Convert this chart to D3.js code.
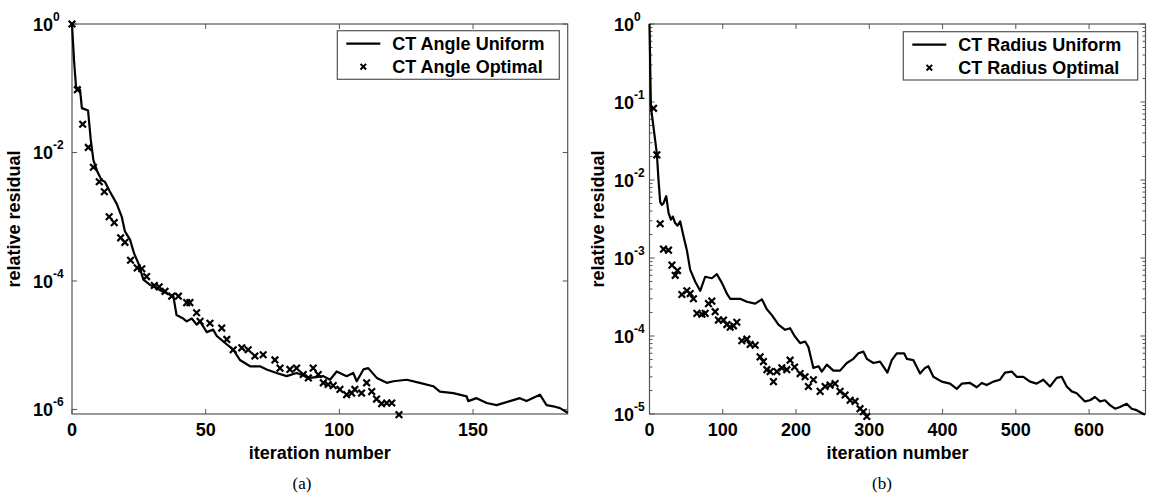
<!DOCTYPE html>
<html><head><meta charset="utf-8">
<script src="https://cdn.jsdelivr.net/npm/d3@7"></script>
<style>body{margin:0;background:#fff}svg{display:block}</style>
</head><body>
<svg id="c" width="1152" height="499"></svg>
<script>
// ---- Panel (a): CT Angle ----
const angleUniformIter = [0,0.75,1.5,3,3.7,6,7,8,9.5,11.1,12.3,14.2,16.7,18.6,19.8,21.7,23.2,24.8,26.7,29.2,32.9,37.9,39.1,41.6,42.9,44.8,46.6,47.9,50.4,52.8,54.1,60.3,62.8,66.6,70.3,72.8,76.5,80.3,84,89,94,96.5,99,102.7,105.2,106.5,109,110.8,114,117.7,120.2,125.2,130.1,135.1,137.6,142.6,147.6,148.2,151.3,155.1,158.8,163.8,167.5,170,175,177.5,180,182.5,185.4];
const angleUniformRes = [1,0.275,0.105,0.095,0.049,0.045,0.016,7.6e-3,5.0e-3,3.7e-3,3.5e-3,2.45e-3,1.6e-3,1.0e-3,5.9e-4,4.4e-4,2.7e-4,1.9e-4,1.05e-4,8.7e-5,7.2e-5,5.8e-5,2.95e-5,2.6e-5,2.35e-5,2.6e-5,2.1e-5,2.35e-5,1.6e-5,1.75e-5,1.4e-5,8.5e-6,5.9e-6,4.7e-6,4.7e-6,4.2e-6,3.7e-6,3.3e-6,3.7e-6,3.1e-6,3.3e-6,2.9e-6,3.9e-6,3.3e-6,3.7e-6,2.75e-6,4.2e-6,4.4e-6,3.1e-6,2.6e-6,2.75e-6,2.9e-6,2.6e-6,2.3e-6,1.9e-6,1.8e-6,1.6e-6,1.35e-6,1.5e-6,1.26e-6,1.17e-6,1.35e-6,1.5e-6,1.35e-6,1.7e-6,1.17e-6,1.12e-6,1.05e-6,0.89e-6];
const angleOptimalIter = [0,2,4,6.1,8,10.2,12.1,13.9,15.8,18.2,19.8,21.9,24.4,26.1,27.9,30.8,32.6,34.8,37.3,39.8,42.9,44.1,46.6,47.9,51.6,56,57.9,60.3,63.5,65.9,68.4,71.5,75.9,77.8,81.5,84,86.5,88.4,90.2,92.1,94,95.8,97.7,100.2,102.7,104.6,105.8,108.3,110.2,112.1,113.9,115.8,117.7,119.6,122.3];
const angleOptimalRes = [1,0.095,0.0275,0.012,5.9e-3,3.5e-3,2.45e-3,1.0e-3,8.1e-4,4.7e-4,4.0e-4,2.1e-4,1.6e-4,1.55e-4,1.17e-4,8.5e-5,8.1e-5,6.9e-5,5.8e-5,5.8e-5,4.6e-5,4.6e-5,3.2e-5,2.35e-5,2.2e-5,1.85e-5,1.23e-5,8.5e-6,9.1e-6,8.5e-6,6.8e-6,7.1e-6,5.9e-6,4.4e-6,4.2e-6,4.4e-6,3.5e-6,3.1e-6,4.4e-6,3.5e-6,2.6e-6,2.45e-6,2.35e-6,2.05e-6,1.7e-6,1.8e-6,2.05e-6,1.8e-6,2.6e-6,1.9e-6,1.45e-6,1.23e-6,1.26e-6,1.26e-6,0.83e-6];
const angleXTicks = [0,50,100,150];
const angleYTicks = [1,1e-2,1e-4,1e-6];
const angleYLabels = ["0","-2","-4","-6"];
const angleLegend = ["CT Angle Uniform","CT Angle Optimal"];

// ---- Panel (b): CT Radius ----
const radiusUniformIter = [0,1.9,10,12.3,14.6,16.9,19,22.8,26,29.2,31.9,35,38.2,41.9,46.4,51,55.5,62.3,69.2,76,85.1,92,98.8,105.6,110.1,123.7,132.9,144.2,153.4,160.2,167,176,185.1,191.9,198,205.6,212.4,216.9,223.7,230.6,235.2,242,251,260.1,269.3,278.3,285.1,292,296.6,305.6,314.7,324.7,330.7,337.5,347.5,351.2,360.2,369.3,376.1,380.6,387.4,398.9,410.2,419.4,426.2,437.5,446.7,453.5,460.3,469.3,478.4,485.3,494.4,501.2,510.2,519.4,528.4,537.5,546.6,555.8,562.6,569.4,576.3,583.1,594.4,601.2,608.1,614.9,621.7,628.5,635.4,642.2,651.3,658.1,664.9,676.2];
const radiusUniformRes = [1,0.087,0.022,0.01,5.2e-3,4.8e-3,5.0e-3,6.2e-3,3.8e-3,3.1e-3,3.4e-3,2.8e-3,2.6e-3,2.95e-3,1.9e-3,1.26e-3,7.1e-4,5.0e-4,3.8e-4,5.75e-4,5.5e-4,6.2e-4,4.8e-4,3.5e-4,3.0e-4,3.0e-4,2.75e-4,2.6e-4,2.95e-4,2.2e-4,1.85e-4,1.4e-4,1.2e-4,1.26e-4,1.0e-4,8.1e-5,8.5e-5,7.2e-5,3.9e-5,4.1e-5,3.5e-5,4.3e-5,3.6e-5,3.6e-5,4.5e-5,5.1e-5,6.0e-5,6.3e-5,5.1e-5,4.5e-5,4.7e-5,3.4e-5,4.9e-5,6.0e-5,6.0e-5,5.1e-5,4.9e-5,3.3e-5,3.9e-5,4.1e-5,3.0e-5,2.6e-5,2.45e-5,2.1e-5,2.45e-5,2.5e-5,2.2e-5,2.5e-5,2.35e-5,2.6e-5,2.75e-5,3.4e-5,3.5e-5,3.0e-5,3.0e-5,2.6e-5,2.45e-5,2.75e-5,2.25e-5,2.9e-5,3.0e-5,2.25e-5,1.95e-5,1.85e-5,1.45e-5,1.5e-5,1.65e-5,1.45e-5,1.5e-5,1.3e-5,1.17e-5,1.23e-5,1.35e-5,1.17e-5,1.12e-5,0.98e-5];
const radiusOptimalIter = [5.5,10,14.6,19.1,25.9,30.6,35.1,38.2,44.2,51,55.5,60,64.7,71.5,76,80.5,85.1,89.6,94.1,101,105.6,110.1,114.6,119.2,126,132.9,137.4,144.2,151,155.5,160.2,164.7,169.2,173.8,180.6,187.4,191.9,198,205.6,212.4,216.9,223.7,232.9,239.7,246.5,253.3,260.1,267,273.8,280.6,287.4,292,296.6];
const radiusOptimalRes = [0.083,0.021,2.75e-3,1.3e-3,1.26e-3,8.1e-4,6.0e-4,6.9e-4,3.4e-4,3.8e-4,3.5e-4,3.0e-4,1.95e-4,1.9e-4,1.95e-4,2.6e-4,2.8e-4,2.05e-4,1.6e-4,1.6e-4,1.4e-4,1.3e-4,1.35e-4,1.5e-4,8.7e-5,9.1e-5,7.8e-5,7.6e-5,5.4e-5,4.7e-5,3.7e-5,3.5e-5,2.6e-5,3.5e-5,3.9e-5,3.7e-5,4.9e-5,4.0e-5,3.3e-5,3.0e-5,2.25e-5,2.75e-5,1.95e-5,2.25e-5,2.35e-5,2.45e-5,1.95e-5,1.75e-5,1.5e-5,1.45e-5,1.17e-5,1.07e-5,0.93e-5];
const radiusXTicks = [0,100,200,300,400,500,600];
const radiusYTicks = [1,1e-1,1e-2,1e-3,1e-4,1e-5];
const radiusYLabels = ["0","-1","-2","-3","-4","-5"];
const radiusLegend = ["CT Radius Uniform","CT Radius Optimal"];

const svg = d3.select("#c");
const AX = "#555";
const FONT = "'Liberation Sans', Arial, Helvetica, sans-serif";
const SERIF = "'Liberation Serif', 'Times New Roman', serif";

function panel(o) {
  const g = svg.append("g");
  const x = d3.scaleLinear().domain(o.xDomain).range([o.left, o.right]);
  const y = d3.scaleLog().domain(o.yDomain).range([o.bottom, o.top]);
  g.append("rect").attr("x", o.left).attr("y", o.top)
    .attr("width", o.right - o.left).attr("height", o.bottom - o.top)
    .attr("fill", "none").attr("stroke", AX).attr("stroke-width", 1.2);
  o.xTicks.forEach(t => {
    const px = x(t);
    g.append("line").attr("x1", px).attr("x2", px).attr("y1", o.bottom).attr("y2", o.bottom - 5).attr("stroke", AX);
    g.append("line").attr("x1", px).attr("x2", px).attr("y1", o.top).attr("y2", o.top + 5).attr("stroke", AX);
    g.append("text").attr("x", px).attr("y", o.bottom + 22).attr("text-anchor", "middle")
      .style("font-family", FONT).attr("font-weight", "bold").attr("font-size", 18).text(t);
  });
  if (o.minor) {
    const lo = Math.log10(o.yDomain[0]), hi = Math.log10(o.yDomain[1]);
    for (let e = Math.floor(lo); e < hi; e++) {
      for (let m = 2; m <= 9; m++) {
        const v = m * Math.pow(10, e);
        if (v < o.yDomain[0] || v > o.yDomain[1]) continue;
        const py = y(v);
        g.append("line").attr("x1", o.left).attr("x2", o.left + 3).attr("y1", py).attr("y2", py).attr("stroke", AX);
        g.append("line").attr("x1", o.right).attr("x2", o.right - 3).attr("y1", py).attr("y2", py).attr("stroke", AX);
      }
    }
  }
  o.yTicks.forEach((t, i) => {
    const py = y(t);
    g.append("line").attr("x1", o.left).attr("x2", o.left + 5).attr("y1", py).attr("y2", py).attr("stroke", AX);
    g.append("line").attr("x1", o.right).attr("x2", o.right - 5).attr("y1", py).attr("y2", py).attr("stroke", AX);
    const tx = g.append("text").style("font-family", FONT).attr("font-weight", "bold")
      .attr("x", o.tenX).attr("y", py + 7).attr("text-anchor", "start");
    tx.append("tspan").attr("font-size", 18).text("10");
    tx.append("tspan").attr("font-size", 12).attr("dy", -10).text(o.yLabels[i]);
  });
  const line = d3.line().x(d => x(d[0])).y(d => y(d[1]));
  g.append("path").datum(d3.zip(o.uIter, o.uRes)).attr("d", line)
    .attr("fill", "none").attr("stroke", "#000").attr("stroke-width", 2.2).attr("stroke-linejoin", "round");
  const s = 3.3;
  const xs = g.append("g");
  d3.zip(o.oIter, o.oRes).forEach(d => {
    const px = x(d[0]), py = y(d[1]);
    xs.append("path").attr("d", `M${px - s},${py - s}L${px + s},${py + s}M${px - s},${py + s}L${px + s},${py - s}`)
      .attr("stroke", "#000").attr("stroke-width", 2.2).attr("fill", "none");
  });
  g.append("text").attr("x", (o.left + o.right) / 2).attr("y", o.bottom + 45).attr("text-anchor", "middle")
    .style("font-family", FONT).attr("font-weight", "bold").attr("font-size", 18).text("iteration number");
  g.append("text").attr("transform", `translate(${o.yLabX},${(o.top + o.bottom) / 2}) rotate(-90)`)
    .attr("text-anchor", "middle").style("font-family", FONT).attr("font-weight", "bold").attr("font-size", 18)
    .text("relative residual");
  g.append("text").attr("x", o.capX).attr("y", 489).attr("text-anchor", "middle")
    .style("font-family", SERIF).attr("font-size", 17).text(o.caption);
  const L = o.legend;
  g.append("rect").attr("x", L.x).attr("y", L.y).attr("width", L.w).attr("height", L.h)
    .attr("fill", "#fff").attr("stroke", AX).attr("stroke-width", 1.2);
  g.append("line").attr("x1", L.x + 9).attr("x2", L.x + 43).attr("y1", L.y + 13).attr("y2", L.y + 13)
    .attr("stroke", "#000").attr("stroke-width", 2.2);
  const mx = L.x + 26, my = L.y + 36, ms = 2.8;
  g.append("path").attr("d", `M${mx - ms},${my - ms}L${mx + ms},${my + ms}M${mx - ms},${my + ms}L${mx + ms},${my - ms}`)
    .attr("stroke", "#000").attr("stroke-width", 2);
  o.legendText.forEach((t, i) => {
    g.append("text").attr("x", L.x + 55).attr("y", L.y + 19 + i * 23)
      .style("font-family", FONT).attr("font-weight", "bold").attr("font-size", 18).text(t);
  });
}

panel({
  left: 72, right: 567.7, top: 24, bottom: 414,
  xDomain: [0, 185.4], yDomain: [0.85e-6, 1],
  xTicks: angleXTicks, yTicks: angleYTicks, yLabels: angleYLabels, minor: false,
  uIter: angleUniformIter, uRes: angleUniformRes, oIter: angleOptimalIter, oRes: angleOptimalRes,
  tenX: 33, yLabX: 20, capX: 302, caption: "(a)",
  legend: {x: 337.3, y: 30.7, w: 222, h: 48.6}, legendText: angleLegend
});
panel({
  left: 649.5, right: 1145.5, top: 24, bottom: 414,
  xDomain: [0, 677], yDomain: [1e-5, 1],
  xTicks: radiusXTicks, yTicks: radiusYTicks, yLabels: radiusYLabels, minor: true,
  uIter: radiusUniformIter, uRes: radiusUniformRes, oIter: radiusOptimalIter, oRes: radiusOptimalRes,
  tenX: 614, yLabX: 604, capX: 882, caption: "(b)",
  legend: {x: 903.3, y: 31.7, w: 234.4, h: 48.3}, legendText: radiusLegend
});
</script>
</body></html>
